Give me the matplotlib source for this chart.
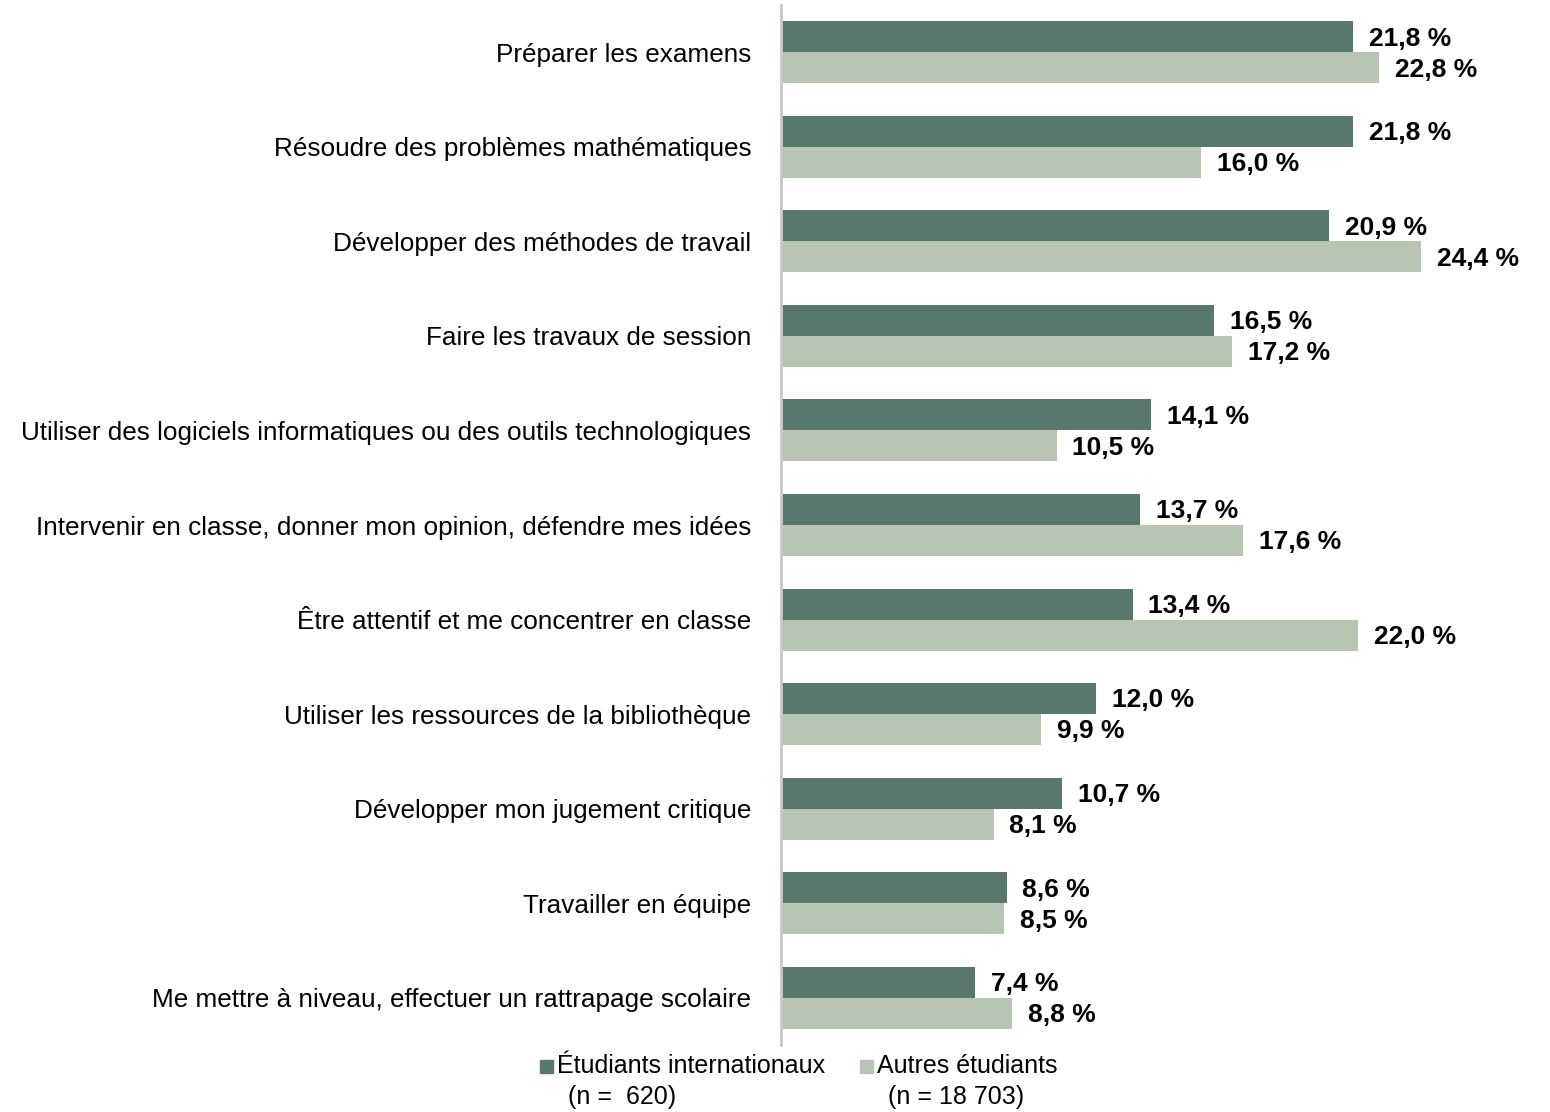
import numpy as np
import matplotlib
matplotlib.use("Agg")
import matplotlib.pyplot as plt
from matplotlib.patches import Rectangle

# --- Data ---
categories = [
    "Préparer les examens",
    "Résoudre des problèmes mathématiques",
    "Développer des méthodes de travail",
    "Faire les travaux de session",
    "Utiliser des logiciels informatiques ou des outils technologiques",
    "Intervenir en classe, donner mon opinion, défendre mes idées",
    "Être attentif et me concentrer en classe",
    "Utiliser les ressources de la bibliothèque",
    "Développer mon jugement critique",
    "Travailler en équipe",
    "Me mettre à niveau, effectuer un rattrapage scolaire",
]
internationaux = [21.8, 21.8, 20.9, 16.5, 14.1, 13.7, 13.4, 12.0, 10.7, 8.6, 7.4]
autres = [22.8, 16.0, 24.4, 17.2, 10.5, 17.6, 22.0, 9.9, 8.1, 8.5, 8.8]
series_names = ["Étudiants internationaux", "Autres étudiants"]
series_n = ["(n =  620)", "(n = 18 703)"]

DARK = "#57786b"
LIGHT = "#b9c5b3"

plt.rcParams["font.family"] = ["Liberation Sans", "DejaVu Sans"]

W, H = 1550, 1112
fig = plt.figure(figsize=(W / 100, H / 100), dpi=100)
ax = fig.add_axes([781 / W, 1 - 1045 / H, (W - 781) / W, 1040 / H])

y = np.arange(len(categories))
bh = 0.328
ax.barh(y - bh / 2, internationaux, height=bh, color=DARK)
ax.barh(y + bh / 2, autres, height=bh, color=LIGHT)

for yi, v in zip(y, internationaux):
    ax.text(v + 0.6, yi - bh / 2 + 0.02, f"{v:.1f} %".replace(".", ","),
            va="center", ha="left", fontsize=19, fontweight="bold")
for yi, v in zip(y, autres):
    ax.text(v + 0.6, yi + bh / 2 + 0.02, f"{v:.1f} %".replace(".", ","),
            va="center", ha="left", fontsize=19, fontweight="bold")

ax.set_ylim(len(categories) - 0.5, -0.5)
ax.set_xlim(0, (W - 781) / 26.24)
ax.set_yticks(y)
ax.set_yticklabels(categories, fontsize=18.8)
ax.tick_params(axis="y", length=0, pad=21.5)
ax.set_xticks([])
for s in ["top", "right", "bottom"]:
    ax.spines[s].set_visible(False)
ax.spines["left"].set_color("#c8c8c8")
ax.spines["left"].set_linewidth(2)

# legend: square beside the first line, sample size on a second line
for x0, col, name, n in zip([540, 860], [DARK, LIGHT], series_names, series_n):
    fig.patches.append(Rectangle((x0 / W, 1 - 1073 / H), 13 / W, 13 / H,
                                 transform=fig.transFigure, color=col))
    fig.text((x0 + 17) / W, 1 - 1066 / H, name, fontsize=18, va="center", ha="left")
    fig.text((x0 + 28) / W, 1 - 1097 / H, n, fontsize=18, va="center", ha="left")

fig.savefig("out.png", dpi=100)
